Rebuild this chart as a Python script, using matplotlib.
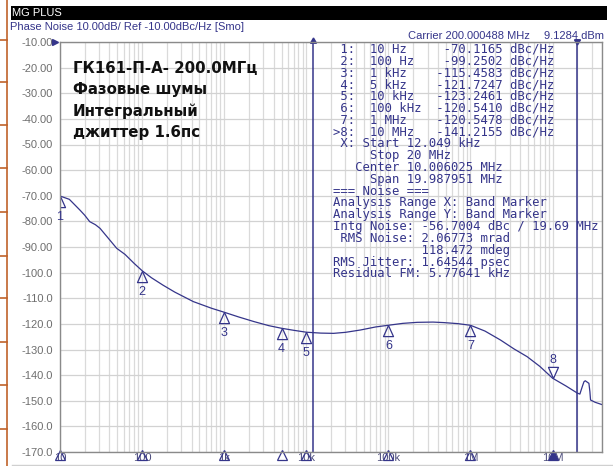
import numpy as np
import matplotlib.pyplot as plt
from matplotlib.path import Path
from matplotlib.transforms import blended_transform_factory

# phase noise trace, offset frequency (Hz) vs L(f) (dBc/Hz)
freq = [10, 13, 17.5, 20, 23, 27, 30.7, 38.8, 49, 62, 80, 100, 130, 180, 250,
        420, 700, 1e3, 1.5e3, 2.3e3, 3.5e3, 5e3, 7e3, 1e4, 1.5e4, 2.15e4, 3e4,
        4.55e4, 7e4, 1e5, 1.5e5, 2.24e5, 3.5e5, 4.72e5, 7e5, 1e6, 1.5e6, 2.32e6,
        3.4e6, 4.9e6, 7e6, 1e7, 1.45e7, 2e7, 2.15e7, 2.3e7, 2.41e7, 2.5e7,
        2.77e7, 2.85e7, 2.9e7, 3.3e7, 4e7]
noise = [-70.1, -71.4, -75.6, -77.6, -80.1, -81.3, -82.7, -86.6, -90.5, -92.9,
         -96.4, -99.25, -102.0, -104.9, -107.6, -111.3, -113.9, -115.46, -117.3,
         -119.1, -120.7, -121.72, -122.5, -123.25, -123.6, -123.7, -123.3, -122.4,
         -121.2, -120.54, -119.8, -119.4, -119.3, -119.5, -119.9, -120.55, -122.8,
         -126.3, -129.8, -132.8, -136.6, -141.2, -144.2, -147.0, -147.4, -144.5,
         -142.6, -142.2, -143.2, -146.5, -149.7, -150.6, -151.5]

# markers
mk_freq = [10, 100, 1e3, 5e3, 1e4, 1e5, 1e6, 1e7]
mk_val = [-70.1165, -99.2502, -115.4583, -121.7247, -123.2461, -120.5410,
          -120.5478, -141.2155]
mk_text = ['10 Hz', '100 Hz', '1 kHz', '5 kHz', '10 kHz', '100 kHz', '1 MHz', '10 MHz']
active = 7

# band markers (integration range)
band = [12.049e3, 20e6]

xticks = [10, 100, 1e3, 1e4, 1e5, 1e6, 1e7]
xtick_labels = ['10', '100', '1k', '10k', '100k', '1M', '10M']
yticks = list(range(-170, -9, 10))

navy = '#35358a'
W, H = 613, 466

def fx(x):
    return x / W

def fy(y):
    return 1 - y / H

fig = plt.figure(figsize=(W / 100, H / 100), dpi=100)
fig.patch.set_facecolor('white')

# window decorations
fig.add_artist(plt.Rectangle((fx(11), fy(20)), fx(607) - fx(11), fy(6) - fy(20),
                             transform=fig.transFigure, color='black', lw=0))
fig.text(fx(12), fy(13), 'MG PLUS', color='white', fontsize=8,
         family='Liberation Sans', va='center')
fig.add_artist(plt.Line2D([fx(7), fx(7)], [0, 1], color='#c0622a', lw=1.2))
for yy in [40, 82, 125, 168, 212, 256, 298, 342, 385, 429]:
    fig.add_artist(plt.Line2D([0, fx(7)], [fy(yy), fy(yy)], color='#c0622a', lw=1.2))
fig.add_artist(plt.Line2D([fx(12), 1], [fy(465), fy(465)], color='#d0d0d0', lw=1))

fig.text(fx(10), fy(27), 'Phase Noise 10.00dB/ Ref -10.00dBc/Hz [Smo]',
         color=navy, fontsize=8, family='Liberation Sans', va='center')
fig.text(fx(408), fy(36), 'Carrier 200.000488 MHz', color=navy, fontsize=8,
         family='Liberation Sans', va='center')
fig.text(fx(604), fy(36), '9.1284 dBm', color=navy, fontsize=8,
         family='Liberation Sans', va='center', ha='right')

ax = fig.add_axes([fx(60), fy(452), fx(602) - fx(60), fy(42) - fy(452)])
ax.set_xscale('log')

ax.set_xticks(xticks)
ax.set_xticklabels(xtick_labels)
ax.set_xticks([m * 10 ** e for e in range(1, 8) for m in range(2, 10)], minor=True)
ax.set_yticks(yticks)
ax.set_yticklabels([f'{v:.2f}' if v > -100 else f'{v:.1f}' for v in yticks])
ax.set_xlim(10, 4e7)
ax.set_ylim(-170, -10)
ax.tick_params(axis='both', which='both', length=0)
ax.tick_params(axis='x', pad=1, labelsize=8, labelcolor='#4a4a7a')
ax.tick_params(axis='y', pad=5, labelsize=8, labelcolor='#6e6e6e')
for lab in ax.get_xticklabels() + ax.get_yticklabels():
    lab.set_family('Liberation Sans')
ax.grid(True, which='both', axis='x', color='#dadada', lw=0.9)
ax.grid(True, which='major', axis='y', color='#d2d2d2', lw=0.9)
ax.set_axisbelow(True)
for s in ax.spines.values():
    s.set_color('#8a8a8a')
    s.set_linewidth(1)

# trace
ax.plot(freq, noise, color=navy, lw=0.9)

# band marker lines with flags
for f in band:
    ax.plot([f, f], [-170, -9.2], color=navy, lw=1.1, clip_on=False)
ax.plot([band[0]], [-9.6], marker=(3, 0, 0), ms=5, color=navy, clip_on=False)
ax.plot([band[1]], [-9.6], marker=(3, 0, 180), ms=5, color=navy, clip_on=False)
ax.plot([8.6], [-10], marker='>', ms=5, color=navy, clip_on=False)

# marker triangles with apex on the trace
up = Path([(0, 0), (-0.45, -1), (0.45, -1), (0, 0)])
down = Path([(0, 0), (-0.45, 1), (0.45, 1), (0, 0)])
for i, (f, v) in enumerate(zip(mk_freq, mk_val)):
    if i == active:
        ax.plot(f, v, marker=down, ms=16, mfc='white', mec=navy, mew=0.9)
        ax.annotate(str(i + 1), (f, v), xytext=(0, 13), textcoords='offset points',
                    ha='center', va='center', color=navy, fontsize=9,
                    family='Liberation Sans')
    else:
        ax.plot(f, v, marker=up, ms=16, mfc='none', mec=navy, mew=0.9)
        ax.annotate(str(i + 1), (f, v), xytext=(0, -15), textcoords='offset points',
                    ha='center', va='center', color=navy, fontsize=9,
                    family='Liberation Sans')

# marker positions along the frequency axis
bt = blended_transform_factory(ax.transData, ax.transAxes)
for i, f in enumerate(mk_freq):
    ax.plot(f, -0.008, marker='^', ms=6.5, transform=bt, clip_on=False,
            mfc=navy if i == active else 'none', mec=navy, mew=0.9)

# title block
title = ['ГК161-П-А- 200.0МГц', 'Фазовые шумы', 'Интегральный', 'джиттер 1.6пс']
for i, t in enumerate(title):
    fig.text(fx(73), fy(68 + i * 21.5), t, fontsize=10.8, weight='bold',
             family='DejaVu Sans', va='center', color='#111111')

# marker / noise table
table = []
for i, (t, v) in enumerate(zip(mk_text, mk_val)):
    lab = ('>' if i == active else '') + f'{i + 1}:'
    table.append(f'{lab:>3}  {t:<9}{v:>9.4f} dBc/Hz')
table += [' X: Start 12.049 kHz',
          '     Stop 20 MHz',
          '   Center 10.006025 MHz',
          '     Span 19.987951 MHz',
          '=== Noise ===',
          'Analysis Range X: Band Marker',
          'Analysis Range Y: Band Marker',
          'Intg Noise: -56.7004 dBc / 19.69 MHz',
          ' RMS Noise: 2.06773 mrad',
          '            118.472 mdeg',
          'RMS Jitter: 1.64544 psec',
          'Residual FM: 5.77641 kHz']
for i, line in enumerate(table):
    fig.text(fx(333), fy(49 + i * 11.84), line, fontsize=8.8,
             family='DejaVu Sans Mono', va='center', color=navy)

fig.savefig('out.png', dpi=100)
